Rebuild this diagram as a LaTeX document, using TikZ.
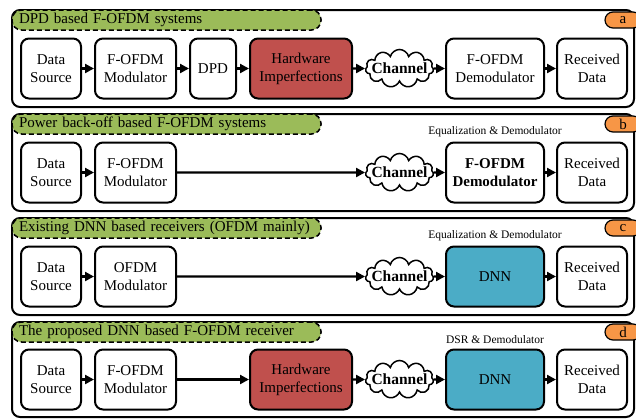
\documentclass[tikz,border=0pt]{standalone}
\usepackage{fontspec}
\setmainfont{Liberation Serif}
\usetikzlibrary{shapes.symbols,arrows.meta}
\definecolor{pgreen}{RGB}{155,187,89}
\definecolor{pred}{RGB}{192,80,77}
\definecolor{pblue}{RGB}{75,172,198}
\definecolor{porange}{RGB}{247,150,70}
\begin{document}
\begin{tikzpicture}[x=1pt,y=-1pt,
  panel/.style={draw,line width=2pt,rounded corners=8pt,minimum width=622pt,inner sep=0pt},
  titlepill/.style={draw,dashed,dash pattern=on 5pt off 3pt,line width=1.5pt,fill=pgreen,rounded corners=9.5pt,
    minimum width=309pt,minimum height=20pt,text width=295pt,inner xsep=7pt,inner ysep=0pt,align=left,
    font=\fontsize{15}{18}\selectfont},
  tagpill/.style={draw,line width=1.2pt,fill=porange,rounded corners=8pt,minimum width=36pt,minimum height=16pt,
    inner sep=0pt,font=\fontsize{15}{18}\selectfont},
  blk/.style={draw,line width=2pt,rounded corners=8pt,align=center,minimum height=60pt,inner sep=0pt,
    font=\fontsize{15}{18}\selectfont},
  chan/.style={cloud,cloud puffs=11,cloud ignores aspect,draw,line width=1.5pt,fill=white,minimum width=68pt,
    minimum height=38pt,inner sep=0pt},
  chantext/.style={inner sep=0pt,font=\fontsize{15.5}{18}\selectfont\bfseries},
  toplabel/.style={font=\fontsize{11.5}{13}\selectfont},
  arr/.style={line width=2.2pt,-{Triangle[length=9pt,width=9pt]}},
]
\useasboundingbox (0,0) rectangle (636,418);

% ---------------- panel a ----------------
\node[panel,minimum height=97pt] (pa) at (323,58.5) {};
\node[titlepill] (ta) at (166.5,20) {DPD based F-OFDM systems};
\node[tagpill] (la) at (623,20) {a};
\node[blk,minimum width=60pt] (a1) at (51,68.5) {Data\\Source};
\node[blk,minimum width=81pt] (a2) at (135.5,68.5) {F-OFDM\\Modulator};
\node[blk,minimum width=46pt] (a3) at (213,68.5) {DPD};
\node[blk,minimum width=102pt,fill=pred] (a4) at (301,68.5) {Hardware\\Imperfections};
\node[chan] (a5) at (399.5,68.5) {};
\node[chantext] (a5t) at (a5.center) {Channel};
\node[blk,minimum width=98pt] (a6) at (495,68.5) {F-OFDM\\Demodulator};
\node[blk,minimum width=70pt] (a7) at (592,68.5) {Received\\Data};
\draw[arr] (a1) -- (a2);
\draw[arr] (a2) -- (a3);
\draw[arr] (a3) -- (a4);
\draw[arr] (a4) -- (a5);
\draw[arr] (a5) -- (a6);
\draw[arr] (a6) -- (a7);

% ---------------- panel b ----------------
\node[panel,minimum height=97pt] (pb) at (323,162.5) {};
\node[titlepill] (tb) at (166.5,124) {Power back-off based F-OFDM systems};
\node[tagpill] (lb) at (623,124) {b};
\node[blk,minimum width=60pt] (b1) at (51,172.5) {Data\\Source};
\node[blk,minimum width=81pt] (b2) at (135.5,172.5) {F-OFDM\\Modulator};
\node[chan] (b5) at (399.5,172.5) {};
\node[chantext] (b5t) at (b5.center) {Channel};
\node[blk,minimum width=98pt,font=\fontsize{15}{18}\selectfont\bfseries] (b6) at (495,172.5) {F-OFDM\\Demodulator};
\node[blk,minimum width=70pt] (b7) at (592,172.5) {Received\\Data};
\node[toplabel,anchor=south] (b8) at (495,140) {Equalization \& Demodulator};
\draw[arr] (b1) -- (b2);
\draw[arr] (b2) -- (b5);
\draw[arr] (b5) -- (b6);
\draw[arr] (b6) -- (b7);

% ---------------- panel c ----------------
\node[panel,minimum height=97pt] (pc) at (323,266.5) {};
\node[titlepill] (tc) at (166.5,228) {Existing DNN based receivers (OFDM mainly)};
\node[tagpill] (lc) at (623,228) {c};
\node[blk,minimum width=60pt] (c1) at (51,276.5) {Data\\Source};
\node[blk,minimum width=81pt] (c2) at (135.5,276.5) {OFDM\\Modulator};
\node[chan] (c5) at (399.5,276.5) {};
\node[chantext] (c5t) at (c5.center) {Channel};
\node[blk,minimum width=98pt,fill=pblue] (c6) at (495,276.5) {DNN};
\node[blk,minimum width=70pt] (c7) at (592,276.5) {Received\\Data};
\node[toplabel,anchor=south] (c8) at (495,244) {Equalization \& Demodulator};
\draw[arr] (c1) -- (c2);
\draw[arr] (c2) -- (c5);
\draw[arr] (c5) -- (c6);
\draw[arr] (c6) -- (c7);

% ---------------- panel d ----------------
\node[panel,minimum height=95pt] (pd) at (323,369.5) {};
\node[titlepill] (td) at (166.5,332) {The proposed DNN based F-OFDM receiver};
\node[tagpill] (ld) at (623,332) {d};
\node[blk,minimum width=60pt] (d1) at (51,379.5) {Data\\Source};
\node[blk,minimum width=81pt] (d2) at (135.5,379.5) {F-OFDM\\Modulator};
\node[blk,minimum width=102pt,fill=pred] (d4) at (301,379.5) {Hardware\\Imperfections};
\node[chan] (d5) at (399.5,379.5) {};
\node[chantext] (d5t) at (d5.center) {Channel};
\node[blk,minimum width=98pt,fill=pblue] (d6) at (495,379.5) {DNN};
\node[blk,minimum width=70pt] (d7) at (592,379.5) {Received\\Data};
\node[toplabel,anchor=south] (d8) at (495,347) {DSR \& Demodulator};
\draw[arr] (d1) -- (d2);
\draw[arr] (d2) -- (d4);
\draw[arr] (d4) -- (d5);
\draw[arr] (d5) -- (d6);
\draw[arr] (d6) -- (d7);
\end{tikzpicture}
\end{document}
